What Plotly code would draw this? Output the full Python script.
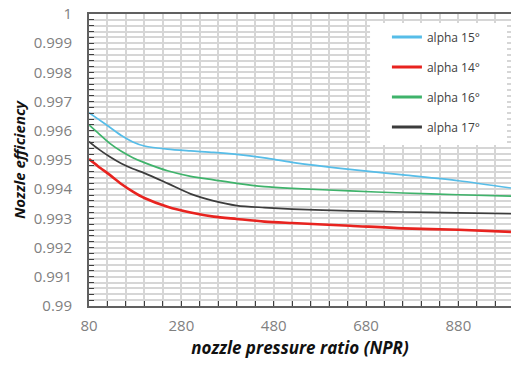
import plotly.graph_objects as go

npr = [80, 100, 125, 150, 175, 200, 250, 300, 350, 400, 460, 520, 645, 760, 880, 994]

alpha15 = [0.99662, 0.99640, 0.99612, 0.99584, 0.99562, 0.99548, 0.99537, 0.99531,
           0.99526, 0.99519, 0.99507, 0.99492, 0.99468, 0.99449, 0.99429, 0.99404]
alpha14 = [0.99503, 0.99478, 0.99449, 0.99418, 0.99392, 0.99370, 0.99340, 0.99320,
           0.99306, 0.99298, 0.99289, 0.99284, 0.99275, 0.99266, 0.99261, 0.99254]
alpha16 = [0.99620, 0.99592, 0.99557, 0.99530, 0.99508, 0.99491, 0.99463, 0.99444,
           0.99432, 0.99420, 0.99409, 0.99403, 0.99394, 0.99387, 0.99381, 0.99376]
alpha17 = [0.99563, 0.99538, 0.99511, 0.99488, 0.99470, 0.99455, 0.99420, 0.99384,
           0.99360, 0.99344, 0.99337, 0.99332, 0.99326, 0.99322, 0.99319, 0.99316]

series = [
    ("alpha 15°", alpha15, "#56bde8", 1.7),
    ("alpha 14°", alpha14, "#e8231f", 2.6),
    ("alpha 16°", alpha16, "#3fb36b", 1.7),
    ("alpha 17°", alpha17, "#3c3c3c", 1.7),
]

x_ticks = [80, 280, 480, 680, 880]
y_ticks = [0.99, 0.991, 0.992, 0.993, 0.994, 0.995, 0.996, 0.997, 0.998, 0.999, 1]
y_labels = ["0.99", "0.991", "0.992", "0.993", "0.994", "0.995", "0.996",
            "0.997", "0.998", "0.999", "1"]

fig = go.Figure()
for i, (name, vals, color, w) in enumerate(series):
    fig.add_trace(go.Scatter(
        x=npr, y=vals, name=name, mode="lines",
        line=dict(color=color, width=w, shape="spline", smoothing=0.8),
        showlegend=False,
    ))
# legend entries with uniform thicker line samples
for i, (name, vals, color, w) in enumerate(series):
    fig.add_trace(go.Scatter(
        x=[None], y=[None], name=name, mode="lines",
        line=dict(color=color, width=3),
        legendgroup=f"g{i}", showlegend=True,
    ))

grid_color = "#d6d6d6"
fig.update_layout(
    width=511, height=366,
    margin=dict(l=89, r=0, t=14, b=60),
    paper_bgcolor="white", plot_bgcolor="white",
    font=dict(family="Open Sans", color="#808080"),
    legend=dict(
        x=0.706, y=0.971, xanchor="left", yanchor="top",
        bgcolor="rgba(0,0,0,0)", borderwidth=0,
        font=dict(family="Open Sans", size=12, color="#404040"),
        tracegroupgap=11, itemwidth=30,
    ),
    shapes=[dict(
        type="rect", xref="paper", yref="paper",
        x0=0.666, x1=0.9905, y0=0.551, y1=0.969,
        fillcolor="white", line=dict(width=0), layer="above",
    )],
    xaxis=dict(
        range=[80, 994],
        tickvals=x_ticks, ticktext=[str(v) for v in x_ticks],
        ticks="inside", ticklen=5, tickcolor="#404040", tickwidth=1,
        minor=dict(dtick=40, tick0=80, ticks="inside", ticklen=5,
                   tickcolor="#404040", showgrid=True, gridcolor=grid_color, gridwidth=1.5),
        showgrid=True, gridcolor=grid_color, gridwidth=1.5,
        showline=True, linecolor="#606060", linewidth=2, mirror=True,
        tickfont=dict(family="Open Sans", size=15, color="#808080"),
        ticklabelstandoff=5,
        title=dict(text="<b><i>nozzle pressure ratio (NPR)</i></b>",
                   font=dict(family="Open Sans", size=17, color="#111111"),
                   standoff=8),
        zeroline=False,
    ),
    yaxis=dict(
        range=[0.99, 1.0],
        tickvals=y_ticks, ticktext=y_labels,
        ticks="inside", ticklen=5, tickcolor="#404040", tickwidth=1,
        minor=dict(dtick=0.0002, tick0=0.99, ticks="inside", ticklen=5,
                   tickcolor="#404040", showgrid=True, gridcolor=grid_color, gridwidth=1.5),
        showgrid=True, gridcolor=grid_color, gridwidth=1.5,
        showline=True, linecolor="#606060", linewidth=2,
        tickfont=dict(family="Open Sans", size=15, color="#808080"),
        ticklabelstandoff=12,
        title=dict(text="<b><i>Nozzle efficiency</i></b>",
                   font=dict(family="Open Sans", size=15, color="#111111"),
                   standoff=5),
        zeroline=False,
    ),
)

fig.write_html("out.html")
